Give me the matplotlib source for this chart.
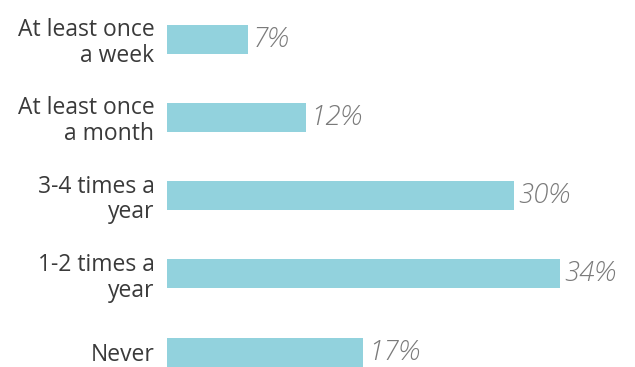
import matplotlib.pyplot as plt

categories = ["At least once\na week", "At least once\na month", "3-4 times a\nyear",
              "1-2 times a\nyear", "Never"]
values = [7, 12, 30, 34, 17]
value_labels = ["7%", "12%", "30%", "34%", "17%"]

plt.rcParams["font.family"] = ["Open Sans", "DejaVu Sans"]

fig = plt.figure(figsize=(6.35, 3.67), dpi=100)
ax = fig.add_axes([167 / 635, 0, 468 / 635, 1])

pos = list(range(len(values)))
ax.barh(pos, values, height=0.37, color="#92d2dd", edgecolor="none")

for p, v, lab in zip(pos, values, value_labels):
    ax.text(v + 0.4, p, lab, va="center", ha="left", fontsize=20,
            style="italic", fontweight="light", color="#7a7a7a")

ax.set_xlim(0, 40.5)
ax.set_ylim(4.19, -0.5)
ax.set_yticks(pos)
ax.set_yticklabels(categories, fontsize=16.5, color="#3a3a3a", linespacing=1.1)
ax.tick_params(axis="y", length=0, pad=9)
ax.set_xticks([])
for s in ax.spines.values():
    s.set_visible(False)

fig.savefig("out.png", dpi=100)
